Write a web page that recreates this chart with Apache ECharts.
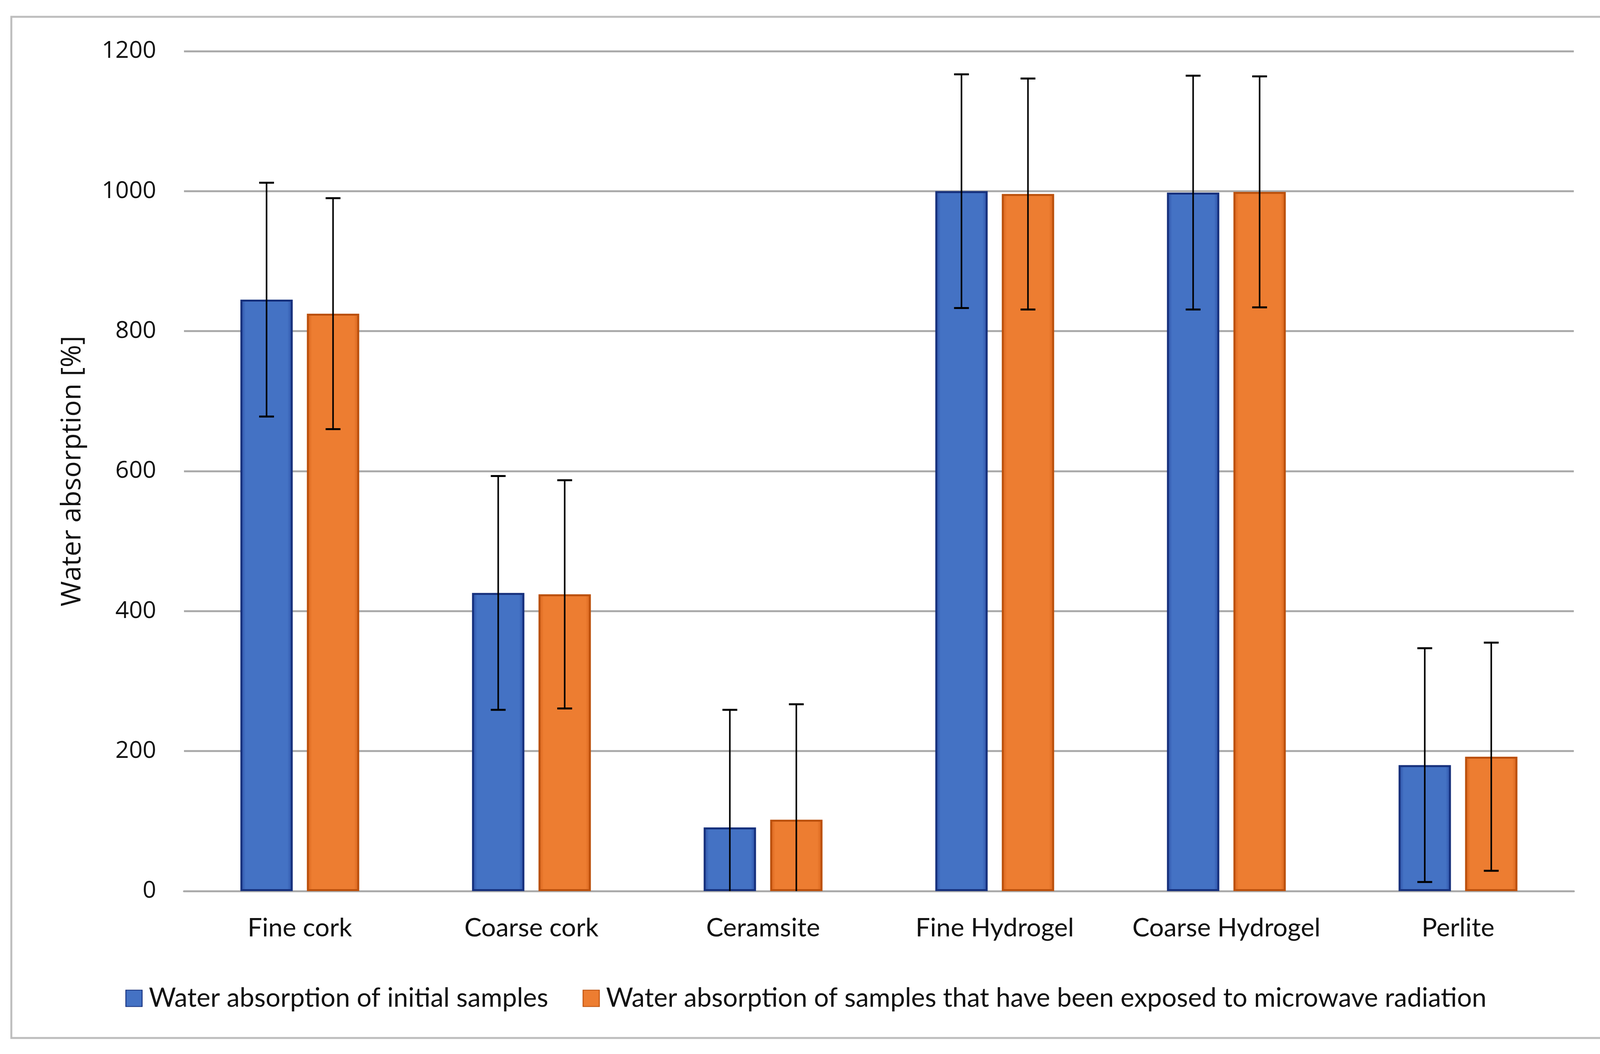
<!DOCTYPE html>
<html>
<head>
<meta charset="utf-8">
<script src="https://cdn.jsdelivr.net/npm/echarts@6/dist/echarts.min.js"></script>
<style>
html,body{margin:0;padding:0;background:#fff;}
#chart{width:4161px;height:2698px;}
</style>
</head>
<body>
<div id="chart"></div>
<script>
var categories = ['Fine cork', 'Coarse cork', 'Ceramsite', 'Fine Hydrogel', 'Coarse Hydrogel', 'Perlite'];
var seriesNames = ['Water absorption of initial samples', 'Water absorption of samples that have been exposed to microwave radiation'];
var initialValues = [845, 426, 91, 1000, 998, 180];
var microwaveValues = [825, 424, 102, 996, 999, 192];
var initialErrors = [167, 167, 168, 167, 167, 167];
var microwaveErrors = [165, 163, 165, 165, 165, 163];
var yTicks = [0, 200, 400, 600, 800, 1000, 1200];

var BAR_W = 0.226, BAR_GAP = 0.27;

function grad(edge, mid) {
  return new echarts.graphic.LinearGradient(0, 0, 1, 0, [
    {offset: 0, color: edge}, {offset: 0.1, color: mid},
    {offset: 0.9, color: mid}, {offset: 1, color: edge}
  ]);
}

function errSeries(values, errs, sign) {
  var data = values.map(function (v, i) { return [i, v, errs[i]]; });
  return {
    type: 'custom',
    z: 10,
    silent: true,
    data: data,
    encode: {x: 0, y: 1},
    renderItem: function (params, api) {
      var i = api.value(0), v = api.value(1), e = api.value(2);
      var band = api.size([1, 0])[0];
      var bw = band * BAR_W, gap = bw * BAR_GAP;
      var off = sign * (bw + gap) / 2;
      var hi = v + e, lo = Math.max(0, v - e);
      var pHi = api.coord([i, hi]), pLo = api.coord([i, lo]);
      var x = pHi[0] + off;
      var capW = 19;
      var children = [
        {type: 'line', shape: {x1: x, y1: pHi[1], x2: x, y2: pLo[1]}, style: {stroke: '#000', lineWidth: 4}},
        {type: 'line', shape: {x1: x - capW, y1: pHi[1], x2: x + capW, y2: pHi[1]}, style: {stroke: '#000', lineWidth: 5}}
      ];
      if (v - e > 0) {
        children.push({type: 'line', shape: {x1: x - capW, y1: pLo[1], x2: x + capW, y2: pLo[1]}, style: {stroke: '#000', lineWidth: 5}});
      }
      return {type: 'group', children: children};
    }
  };
}

var chart = echarts.init(document.getElementById('chart'));
chart.setOption({
  backgroundColor: '#fff',
  animation: false,
  graphic: [{
    type: 'rect', z: -10,
    shape: {x: 29, y: 43, width: 4089, height: 2614},
    style: {fill: 'none', stroke: '#bdbdbd', lineWidth: 5}
  }],
  grid: {left: 471, right: 132, top: 131, bottom: 417, containLabel: false},
  legend: {
    data: seriesNames,
    left: 316, top: 2517,
    icon: 'rect', itemWidth: 42, itemHeight: 42, itemGap: 88,
    textStyle: {fontFamily: 'Lato', fontSize: 67, color: '#111', padding: [0, 0, 0, 12]}
  },
  xAxis: {
    type: 'category',
    data: categories,
    axisTick: {show: false},
    axisLine: {lineStyle: {color: '#ababab', width: 5}},
    axisLabel: {fontFamily: 'Lato', fontSize: 66, color: '#111', margin: 62, interval: 0, hideOverlap: false}
  },
  yAxis: {
    type: 'value',
    min: yTicks[0], max: yTicks[yTicks.length - 1], interval: 200,
    name: 'Water absorption [%]',
    nameLocation: 'middle', nameGap: 250, nameRotate: 90,
    nameTextStyle: {fontFamily: 'Open Sans', fontSize: 70, color: '#111'},
    axisLine: {show: false}, axisTick: {show: false},
    axisLabel: {fontFamily: 'Open Sans', fontSize: 61, color: '#111', margin: 71,
      formatter: function (v) { return String(v); }},
    splitLine: {lineStyle: {color: '#ababab', width: 5}}
  },
  series: [
    {
      name: seriesNames[0], type: 'bar', data: initialValues,
      barWidth: (BAR_W * 100) + '%', barGap: (BAR_GAP * 100) + '%',
      itemStyle: {color: grad('#2a4da3', '#4472C4'), borderColor: '#16307c', borderWidth: 5}
    },
    {
      name: seriesNames[1], type: 'bar', data: microwaveValues,
      barWidth: (BAR_W * 100) + '%', barGap: (BAR_GAP * 100) + '%',
      itemStyle: {color: grad('#d5611a', '#ED7D31'), borderColor: '#bb500c', borderWidth: 5}
    },
    errSeries(initialValues, initialErrors, -1),
    errSeries(microwaveValues, microwaveErrors, 1)
  ]
});
</script>
</body>
</html>
